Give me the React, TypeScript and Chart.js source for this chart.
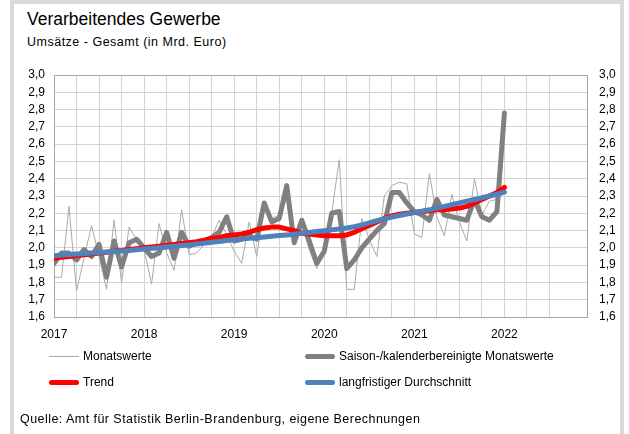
import React, { useEffect, useRef } from 'react';
import { Chart, registerables } from 'chart.js';

Chart.register(...registerables);

// x axis: month index 0 = Jan 2017 ... 60 = Jan 2022
const yearLabels = ['2017', '2018', '2019', '2020', '2021', '2022'];

const monatswerte = [
  1.83, 1.83, 2.24, 1.75, 1.94, 2.13, 1.95, 1.76, 2.16, 1.80, 2.12, 2.05,
  1.99, 1.79, 2.14, 1.97, 1.87, 2.22, 1.96, 1.97, 2.02, 2.06, 2.16, 2.08,
  1.98, 1.91, 2.15, 1.95, 2.23, 2.17, 2.19, 2.28, 2.06, 2.13, 1.99, 1.88,
  2.00, 2.20, 2.51, 1.76, 1.76, 2.17, 2.05, 1.95, 2.30, 2.36, 2.38, 2.37,
  2.08, 2.06, 2.43, 2.18, 2.07, 2.31, 2.15, 2.04, 2.40, 2.19, 2.27, 2.28,
  2.75,
];

const saisonbereinigt = [
  1.91, 1.97, 1.97, 1.93, 1.99, 1.95, 2.02, 1.83, 2.04, 1.89, 2.03, 2.05,
  2.00, 1.95, 1.97, 2.09, 1.94, 2.09, 2.01, 2.03, 2.04, 2.06, 2.09, 2.18,
  2.04, 2.05, 2.07, 2.05, 2.26, 2.15, 2.17, 2.36, 2.03, 2.16, 2.04, 1.91,
  1.98, 2.20, 2.21, 1.88, 1.93, 2.00, 2.05, 2.10, 2.14, 2.32, 2.32, 2.26,
  2.21, 2.19, 2.16, 2.28, 2.19, 2.18, 2.17, 2.16, 2.28, 2.18, 2.16, 2.21,
  2.78,
];

const trend = [
  1.94, 1.945, 1.95, 1.955, 1.96, 1.965, 1.97, 1.975, 1.98, 1.985, 1.99, 1.995,
  2.0, 2.005, 2.01, 2.015, 2.02, 2.025, 2.03, 2.035, 2.045, 2.055, 2.06, 2.07,
  2.075, 2.08, 2.09, 2.105, 2.115, 2.12, 2.12, 2.11, 2.10, 2.085, 2.08, 2.075,
  2.07, 2.07, 2.07, 2.075, 2.09, 2.11, 2.13, 2.15, 2.17, 2.185, 2.195, 2.20,
  2.205, 2.21, 2.215, 2.22, 2.22, 2.225, 2.23, 2.24, 2.26, 2.28, 2.30, 2.32,
  2.35,
];

const durchschnitt = [
  1.955, 1.958, 1.961, 1.964, 1.967, 1.97, 1.973, 1.976, 1.979, 1.982, 1.985, 1.989,
  1.993, 1.997, 2.001, 2.005, 2.009, 2.013, 2.017, 2.022, 2.027, 2.032, 2.037, 2.042,
  2.047, 2.051, 2.055, 2.059, 2.063, 2.067, 2.071, 2.075, 2.079, 2.084, 2.089, 2.094,
  2.099, 2.104, 2.109, 2.115, 2.122, 2.133, 2.145, 2.157, 2.168, 2.178, 2.187, 2.196,
  2.204, 2.212, 2.22, 2.23, 2.24, 2.25, 2.26, 2.27, 2.28, 2.29, 2.30, 2.31,
  2.322,
];

const FONT = '"Liberation Sans", Arial, Helvetica, sans-serif';

const toXY = (arr: number[]) => arr.map((v, i) => ({ x: i, y: v }));

export default function App() {
  const ref = useRef<HTMLCanvasElement | null>(null);

  useEffect(() => {
    if (!ref.current) return;
    const gridColor = '#d4d4d4';
    const edgeColor = '#a6a6a6';
    const tickFont = { family: FONT, size: 12 };
    const chart = new Chart(ref.current, {
      type: 'line',
      data: {
        datasets: [
          {
            label: 'Monatswerte',
            data: toXY(monatswerte),
            borderColor: '#a9a9a9',
            borderWidth: 1,
            pointRadius: 0,
            order: 3,
          },
          {
            label: 'Saison-/kalenderbereinigte Monatswerte',
            data: toXY(saisonbereinigt),
            borderColor: '#808080',
            borderWidth: 5,
            pointRadius: 0,
            borderJoinStyle: 'round',
            borderCapStyle: 'round',
            order: 2,
          },
          {
            label: 'Trend',
            data: toXY(trend),
            borderColor: '#ff0000',
            borderWidth: 5,
            pointRadius: 0,
            borderJoinStyle: 'round',
            borderCapStyle: 'round',
            order: 1,
          },
          {
            label: 'langfristiger Durchschnitt',
            data: toXY(durchschnitt),
            borderColor: '#4f81bd',
            borderWidth: 5,
            pointRadius: 0,
            borderJoinStyle: 'round',
            borderCapStyle: 'round',
            order: 0,
          },
        ],
      } as any,
      options: {
        animation: false,
        responsive: false,
        devicePixelRatio: 1,
        layout: { padding: { left: 0, right: 0, top: 75, bottom: 87 } },
        plugins: { legend: { display: false }, tooltip: { enabled: false }, title: { display: false } },
        scales: {
          x: {
            type: 'linear',
            min: 0,
            max: 71,
            afterFit: (s: any) => {
              s.height = 30;
            },
            ticks: {
              stepSize: 3,
              autoSkip: false,
              maxRotation: 0,
              padding: 10,
              font: tickFont,
              color: '#000',
              callback: (v: any) => (v % 12 === 0 ? yearLabels[v / 12] ?? '' : ''),
            },
            grid: {
              drawTicks: false,
              color: (ctx: any) => (ctx.tick && ctx.tick.value >= 71 ? edgeColor : gridColor),
            },
            border: { color: edgeColor },
          },
          y: {
            position: 'left',
            min: 1.6,
            max: 3.0,
            afterFit: (s: any) => {
              s.width = 54;
            },
            ticks: {
              stepSize: 0.1,
              autoSkip: false,
              padding: 9,
              font: tickFont,
              color: '#000',
              callback: (v: any) => Number(v).toFixed(1).replace('.', ','),
            },
            grid: {
              drawTicks: false,
              color: (ctx: any) => (ctx.tick && ctx.tick.value >= 2.999 ? edgeColor : gridColor),
            },
            border: { color: edgeColor },
          },
          y2: {
            position: 'right',
            min: 1.6,
            max: 3.0,
            afterFit: (s: any) => {
              s.width = 42;
            },
            ticks: {
              stepSize: 0.1,
              autoSkip: false,
              padding: 12,
              font: tickFont,
              color: '#000',
              callback: (v: any) => Number(v).toFixed(1).replace('.', ','),
            },
            grid: { drawOnChartArea: false, drawTicks: false },
            border: { color: edgeColor },
          },
        },
      } as any,
    });
    return () => chart.destroy();
  }, []);

  const text: React.CSSProperties = {
    position: 'absolute',
    fontFamily: FONT,
    color: '#000',
    whiteSpace: 'nowrap',
    lineHeight: 1,
  };

  const swatch = (left: number, top: number, color: string, h: number): React.CSSProperties => ({
    position: 'absolute',
    left,
    top: top - h / 2,
    width: 30,
    height: h,
    background: color,
    borderRadius: h > 2 ? h / 2 : 0,
  });

  return (
    <div
      style={{
        position: 'fixed',
        left: 0,
        top: 0,
        width: 629,
        height: 434,
        background: '#fff',
        overflow: 'hidden',
      }}
    >
      <div
        style={{
          position: 'absolute',
          left: 10,
          top: 0,
          width: 606,
          height: 460,
          border: '4px solid #d9d9d9',
          background: '#fff',
        }}
      />
      <div style={{ ...text, left: 27, top: 11, fontSize: 17.5 }}>Verarbeitendes Gewerbe</div>
      <div style={{ ...text, left: 27, top: 36, fontSize: 12.5, letterSpacing: 0.5 }}>
        Umsätze - Gesamt (in Mrd. Euro)
      </div>
      <canvas
        ref={ref}
        width={629}
        height={434}
        style={{ position: 'absolute', left: 0, top: 0, width: 629, height: 434 }}
      />
      <div style={swatch(49, 356, '#a9a9a9', 1)} />
      <div style={{ ...text, left: 83, top: 350, fontSize: 12 }}>Monatswerte</div>
      <div style={swatch(305, 356, '#808080', 5)} />
      <div style={{ ...text, left: 339, top: 350, fontSize: 12 }}>Saison-/kalenderbereinigte Monatswerte</div>
      <div style={swatch(49, 382, '#ff0000', 5)} />
      <div style={{ ...text, left: 83, top: 376, fontSize: 12 }}>Trend</div>
      <div style={swatch(305, 382, '#4f81bd', 5)} />
      <div style={{ ...text, left: 339, top: 376, fontSize: 12 }}>langfristiger Durchschnitt</div>
      <div style={{ ...text, left: 20, top: 413, fontSize: 12.5, letterSpacing: 0.45 }}>
        Quelle: Amt für Statistik Berlin-Brandenburg, eigene Berechnungen
      </div>
    </div>
  );
}
